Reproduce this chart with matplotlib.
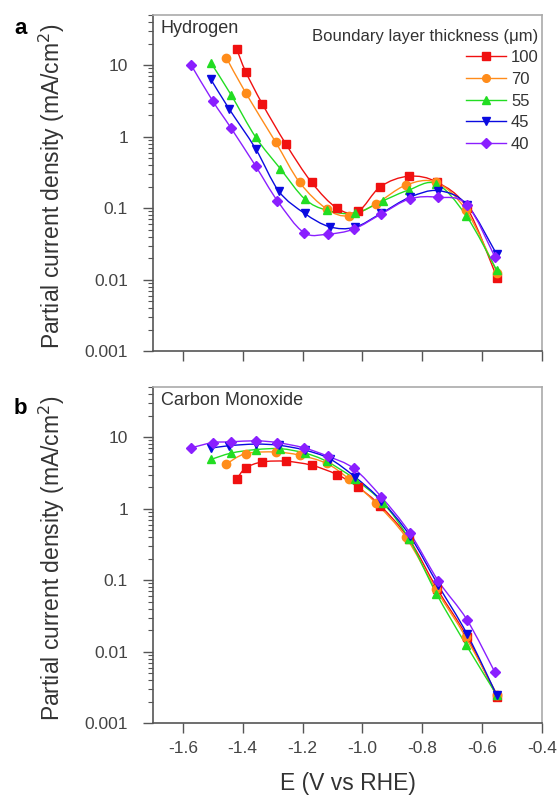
import numpy as np
import matplotlib
matplotlib.use('Agg')
import matplotlib.pyplot as plt
from matplotlib.path import Path
from matplotlib.patches import PathPatch
from matplotlib.lines import Line2D
from matplotlib.ticker import FixedLocator, FixedFormatter, LogLocator, NullFormatter

plt.rcParams['font.family'] = ['Liberation Sans', 'DejaVu Sans']
plt.rcParams['axes.unicode_minus'] = False

thickness = ['100', '70', '55', '45', '40']
colors = ['#f01010', '#ff8c1a', '#22dd22', '#0a0ae0', '#8a1fff']
markers = ['s', 'o', '^', 'v', 'D']

# potentials (V vs RHE) per series
E_100 = [-1.42, -1.39, -1.335, -1.255, -1.17, -1.085, -1.015, -0.94, -0.845, -0.75, -0.65, -0.55]
E_70 = [-1.455, -1.39, -1.29, -1.21, -1.12, -1.045, -0.955, -0.855, -0.755, -0.655, -0.55]
E_55 = [-1.505, -1.438, -1.357, -1.274, -1.193, -1.12, -1.026, -0.931, -0.845, -0.753, -0.653, -0.552]
E_45 = [-1.507, -1.446, -1.357, -1.279, -1.193, -1.11, -1.026, -0.937, -0.842, -0.747, -0.651, -0.552]
E_40 = [-1.572, -1.50, -1.44, -1.357, -1.284, -1.196, -1.115, -1.029, -0.937, -0.842, -0.747, -0.651, -0.558]

# hydrogen partial current density (mA/cm2)
h2_100 = [16.8, 8.1, 2.9, 0.78, 0.23, 0.10, 0.09, 0.20, 0.28, 0.23, 0.10, 0.0105]
h2_70 = [12.8, 4.1, 0.84, 0.23, 0.098, 0.078, 0.115, 0.21, 0.23, 0.095, 0.0125]
h2_55 = [10.6, 3.8, 0.99, 0.355, 0.135, 0.094, 0.085, 0.127, 0.18, 0.22, 0.078, 0.0137]
h2_45 = [6.4, 2.47, 0.68, 0.172, 0.0845, 0.055, 0.054, 0.085, 0.142, 0.176, 0.112, 0.0228]
h2_40 = [10.0, 3.15, 1.34, 0.39, 0.127, 0.0457, 0.0435, 0.051, 0.083, 0.135, 0.142, 0.112, 0.021]

# carbon monoxide partial current density (mA/cm2)
co_100 = [2.6, 3.7, 4.5, 4.6, 4.05, 3.0, 2.0, 1.1, 0.38, 0.075, 0.016, 0.0023]
co_70 = [4.2, 5.9, 6.2, 5.6, 4.3, 2.6, 1.2, 0.4, 0.075, 0.016, 0.0025]
co_55 = [4.9, 6.0, 6.7, 6.9, 6.0, 4.6, 2.6, 1.2, 0.38, 0.065, 0.0123, 0.0025]
co_45 = [7.0, 7.6, 8.0, 7.7, 6.6, 5.0, 2.8, 1.3, 0.42, 0.085, 0.0178, 0.0025]
co_40 = [7.1, 8.4, 8.6, 8.9, 8.4, 7.1, 5.4, 3.65, 1.46, 0.46, 0.098, 0.028, 0.0052]

E_all = [E_100, E_70, E_55, E_45, E_40]
h2_all = [h2_100, h2_70, h2_55, h2_45, h2_40]
co_all = [co_100, co_70, co_55, co_45, co_40]

yticks = [0.001, 0.01, 0.1, 1, 10]
ylabels = ['0.001', '0.01', '0.1', '1', '10']
xticks = [-1.6, -1.4, -1.2, -1.0, -0.8, -0.6, -0.4]
xlabels = ['-1.6', '-1.4', '-1.2', '-1.0', '-0.8', '-0.6', '-0.4']


def smooth_path(x, y):
    # Catmull-Rom through the points, drawn as cubic Bezier segments (log y)
    x = np.asarray(x, float)
    ly = np.log10(np.asarray(y, float))
    verts = [(x[0], 10 ** ly[0])]
    codes = [Path.MOVETO]
    n = len(x)
    for i in range(n - 1):
        i0 = max(i - 1, 0)
        i3 = min(i + 2, n - 1)
        c1 = (x[i] + (x[i + 1] - x[i0]) / 6, ly[i] + (ly[i + 1] - ly[i0]) / 6)
        c2 = (x[i + 1] - (x[i3] - x[i]) / 6, ly[i + 1] - (ly[i3] - ly[i]) / 6)
        verts += [(c1[0], 10 ** c1[1]), (c2[0], 10 ** c2[1]), (x[i + 1], 10 ** ly[i + 1])]
        codes += [Path.CURVE4] * 3
    return Path(verts, codes)


fig = plt.figure(figsize=(5.6, 8), dpi=100)
ax1 = fig.add_axes([0.273, 0.561, 0.695, 0.42])
ax2 = fig.add_axes([0.273, 0.096, 0.695, 0.42])

for ax, data in [(ax1, h2_all), (ax2, co_all)]:
    ax.set_yscale('log')
    for E, y, c, m in zip(E_all, data, colors, markers):
        ax.add_patch(PathPatch(smooth_path(E, y), facecolor='none', edgecolor=c, lw=1.0))
        ms = 5.5 if m == 'D' else 6
        ax.plot(E, y, ls='none', marker=m, color=c, ms=ms, mec=c)
    ax.set_xlim(-1.7, -0.4)
    ax.set_ylim(0.001, 50)
    ax.yaxis.set_major_locator(FixedLocator(yticks))
    ax.yaxis.set_major_formatter(FixedFormatter(ylabels))
    ax.yaxis.set_minor_locator(LogLocator(base=10, subs=np.arange(2, 10)))
    ax.yaxis.set_minor_formatter(NullFormatter())
    ax.set_xticks(xticks)
    ax.tick_params(axis='both', which='major', direction='out', length=7, width=1,
                   color='#555555', labelsize=12.5, labelcolor='#444444')
    ax.tick_params(axis='y', which='major', pad=11)
    ax.tick_params(axis='x', which='major', pad=6)
    ax.tick_params(axis='y', which='minor', direction='out', length=3.5, width=0.8, color='#555555')
    for s in ['left', 'bottom']:
        ax.spines[s].set_color('#555555')
        ax.spines[s].set_linewidth(1.2)
    for s in ['right', 'top']:
        ax.spines[s].set_color('#aaaaaa')
        ax.spines[s].set_linewidth(1.2)
    ax.set_ylabel('Partial current density (mA/cm$^2$)', fontsize=16.5, color='#333333')
    ax.yaxis.set_label_coords(-0.221, 0.49)

ax1.set_xticklabels([])
ax2.set_xticklabels(xlabels)
ax2.set_xlabel('E (V vs RHE)', fontsize=16.5, color='#333333', labelpad=11)

ax1.text(0.02, 0.985, 'Hydrogen', transform=ax1.transAxes, ha='left', va='top', fontsize=13, color='#333333')
ax2.text(0.02, 0.985, 'Carbon Monoxide', transform=ax2.transAxes, ha='left', va='top', fontsize=13, color='#333333')

fig.text(0.025, 0.965, 'a', fontsize=16, fontweight='bold', ha='left', va='center')
fig.text(0.025, 0.49, 'b', fontsize=16, fontweight='bold', ha='left', va='center')

handles = [Line2D([], [], color=c, marker=m, ms=5.5, lw=1) for c, m in zip(colors, markers)]
leg = ax1.legend(handles, thickness, title='Boundary layer thickness (\u03bcm)', loc='upper right',
                 bbox_to_anchor=(1.0, 0.97), frameon=False, fontsize=12, title_fontsize=12,
                 alignment='right', handlelength=2.4, handletextpad=0.3, labelspacing=0.4,
                 borderaxespad=0.0, borderpad=0.2)
for t in leg.get_texts():
    t.set_color('#333333')
leg.get_title().set_color('#333333')

fig.savefig('out.png', dpi=100)
